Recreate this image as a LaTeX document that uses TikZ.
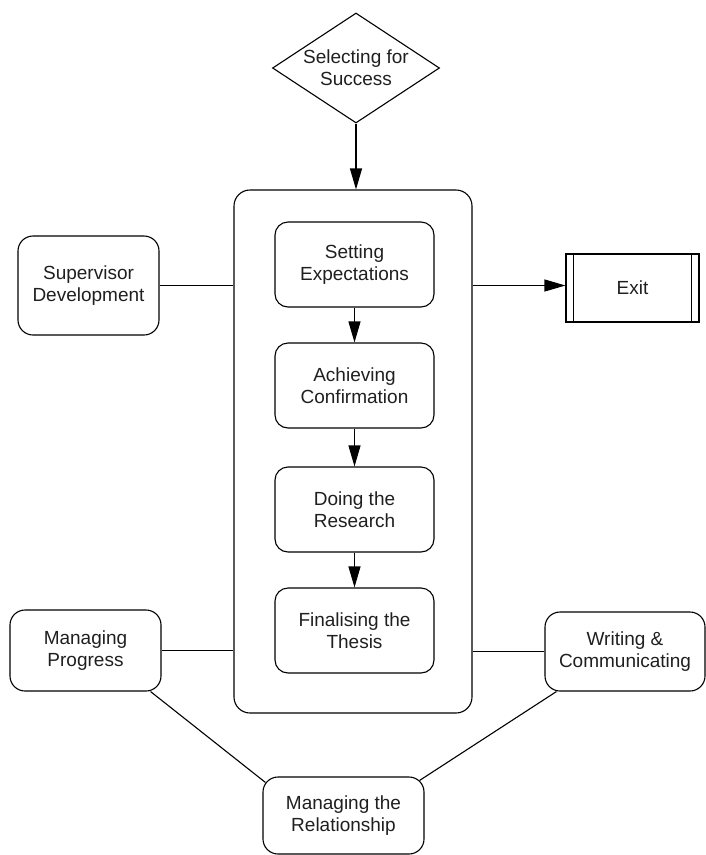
\documentclass[tikz,border=0pt]{standalone}
\usepackage{fontspec}
\setmainfont{Liberation Sans}
\usetikzlibrary{shapes.geometric,arrows.meta,calc}
\begin{document}
\begin{tikzpicture}[x=1pt,y=-1pt,
  line width=1.1pt,
  every node/.style={font=\fontsize{19}{22}\selectfont, align=center, inner sep=0pt, text=black!88},
  box/.style={draw, rounded corners=#1, minimum width=159pt, minimum height=85pt},
  box/.default=13pt,
  stage/.style={box, minimum width=159pt, minimum height=85pt},
  flow/.style={-{Triangle[length=21pt,width=12pt]}}
]
\useasboundingbox (0,0) rectangle (706,855);

% entry decision
\node[draw, diamond, aspect=1.52, minimum width=167pt, minimum height=110pt] (sel) at (356,68) {Selecting for\\Success};

% central frame holding the four stages
\node[draw, rounded corners=16pt, minimum width=238pt, minimum height=523pt] (frame) at (353,451.5) {};

\node[stage] (se) at (354.5,264.5) {Setting\\Expectations};
\node[stage] (ac) at (354.5,385.5) {Achieving\\Confirmation};
\node[stage] (dr) at (354.5,509.5) {Doing the\\Research};
\node[stage] (ft) at (354.5,630.5) {Finalising the\\Thesis};

% surrounding themes
\node[box=15pt, minimum width=141pt, minimum height=99pt] (sd) at (88.5,285.5) {Supervisor\\Development};
\node[box=15pt, minimum width=151pt, minimum height=81pt] (mp) at (85.5,650.5) {Managing\\Progress};
\node[box=15pt, minimum width=160pt, minimum height=79pt] (wc) at (625,651.5) {Writing \&\\Communicating};
\node[box=15pt, minimum width=161pt, minimum height=77pt] (rel) at (343.5,815.5) {Managing the\\Relationship};

% exit process box with side bars
\node[draw, minimum width=133pt, minimum height=68pt] (exit) at (632.5,288) {Exit};
\draw ([xshift=8pt]exit.north west) -- ([xshift=8pt]exit.south west);
\draw ([xshift=-8pt]exit.north east) -- ([xshift=-8pt]exit.south east);

% flow
\draw[flow] (sel.south) -- (sel.south |- frame.north);
\draw[flow] (se.south) -- (ac.north);
\draw[flow] (ac.south) -- (dr.north);
\draw[flow] (dr.south) -- (ft.north);
\draw[flow] (frame.east |- sd.east) -- (exit.west |- sd.east);

% links to the themes
\draw (sd.east) -- (sd.east -| frame.west);
\draw (mp.east) -- (mp.east -| frame.west);
\draw (wc.west) -- (wc.west -| frame.east);
\draw ([xshift=-11pt]mp.south east) -- ([xshift=3pt,yshift=-6pt]rel.north west);
\draw ([xshift=12pt]wc.south west) -- ([xshift=-5pt,yshift=-4pt]rel.north east);
\end{tikzpicture}
\end{document}
